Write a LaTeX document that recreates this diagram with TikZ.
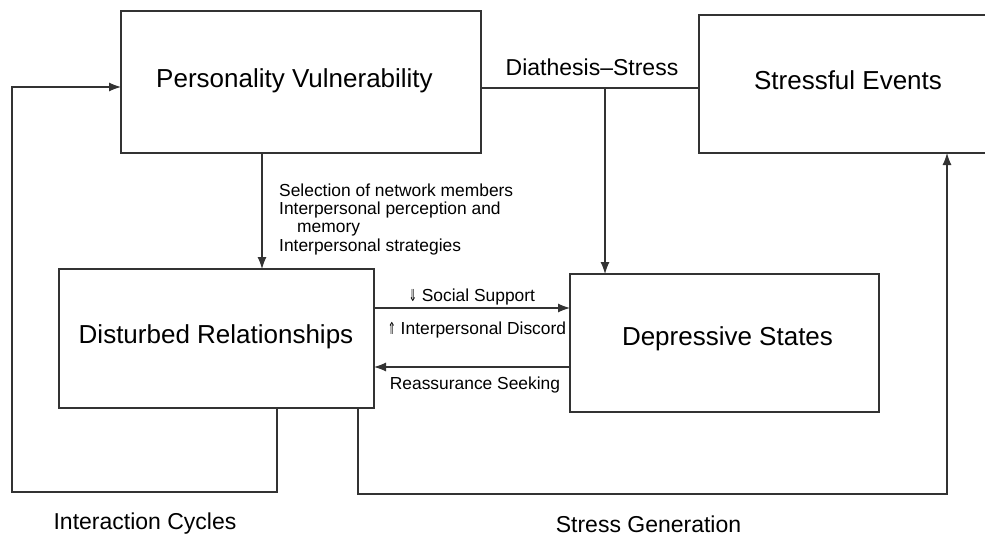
\documentclass[tikz,border=0pt]{standalone}
\usepackage{fontspec}
\usepackage{graphicx}
\setmainfont{Liberation Sans}
\newfontfamily\symf{DejaVu Sans}
\usetikzlibrary{arrows.meta}
% narrow double arrows used in the link labels
\newcommand\arrdn{\scalebox{0.55}[0.95]{\symf ⇓}}
\newcommand\arrup{\scalebox{0.55}[0.95]{\symf ⇑}}
\begin{document}
\begin{tikzpicture}[x=1pt,y=-1pt,
  frame/.style={draw=black!80, line width=1.3pt, inner sep=0pt, outer sep=0pt},
  wire/.style={draw=black!80, line width=1.1pt},
  arr/.style={wire, -{Latex[length=12pt,width=9pt]}},
  big/.style={font=\fontsize{26}{30}\selectfont, inner sep=0pt, anchor=base},
  mid/.style={font=\fontsize{23}{27}\selectfont, inner sep=0pt, anchor=base},
  small/.style={font=\fontsize{17.4}{18.3}\selectfont, inner sep=0pt}]
\fill[white] (0,0) rectangle (985,535);
\useasboundingbox (0,0) rectangle (985,535);

% boxes
\node[frame, minimum width=360pt, minimum height=142pt] (PV) at (301,82) {};
\node[frame, minimum width=298pt, minimum height=138pt] (SE) at (848,84) {};
\node[frame, minimum width=315pt, minimum height=139pt] (DR) at (216.5,338.5) {};
\node[frame, minimum width=309pt, minimum height=138pt] (DS) at (724.5,343) {};

% box titles
\node[big] (PVt) at (294.5,88) {Personality Vulnerability};
\node[big] (SEt) at (848,89) {Stressful Events};
\node[big] (DRt) at (216,343) {Disturbed Relationships};
\node[big] (DSt) at (727.5,345) {Depressive States};

% path labels
\node[mid] (dsl) at (592,76) {Diathesis–Stress};
\node[mid] (icl) at (145,529) {Interaction Cycles};
\node[mid] (sgl) at (648.5,532) {Stress Generation};

\node[small, anchor=base west] (sel1) at (279,196) {Selection of network members};
\node[small, anchor=base west] (sel2) at (279,214.3) {Interpersonal perception and};
\node[small, anchor=base west] (sel3) at (297,232.6) {memory};
\node[small, anchor=base west] (sel4) at (279,251) {Interpersonal strategies};

\node[small, anchor=base] (ssl) at (472,301) {\arrdn\ Social Support};
\node[small, anchor=base] (idl) at (477,334) {\arrup\ Interpersonal Discord};
\node[small, anchor=base] (rsl) at (475,389) {Reassurance Seeking};

% routing points
\coordinate (icB) at (277,492);
\coordinate (icL) at (12,492);
\coordinate (icT) at (12,87);
\coordinate (sgB) at (358,494);
\coordinate (sgR) at (947,494);
\coordinate (dsJ) at (605,88);
\coordinate (pvD) at (262,0);
\coordinate (upL) at (0,308);
\coordinate (loL) at (0,367);

% connectors
\draw[arr] (DR.south -| icB) -- (icB) -- (icL) -- (icT) -- (PV.west |- icT);
\draw[arr] (DR.south -| sgB) -- (sgB) -- (sgR) -- (SE.south -| sgR);
\draw[wire] (PV.east |- dsJ) -- (SE.west |- dsJ);
\draw[arr] (dsJ) -- (DS.north -| dsJ);
\draw[arr] (PV.south -| pvD) -- (DR.north -| pvD);
\draw[arr] (DR.east |- upL) -- (DS.west |- upL);
\draw[arr] (DS.west |- loL) -- (DR.east |- loL);
\end{tikzpicture}
\end{document}
